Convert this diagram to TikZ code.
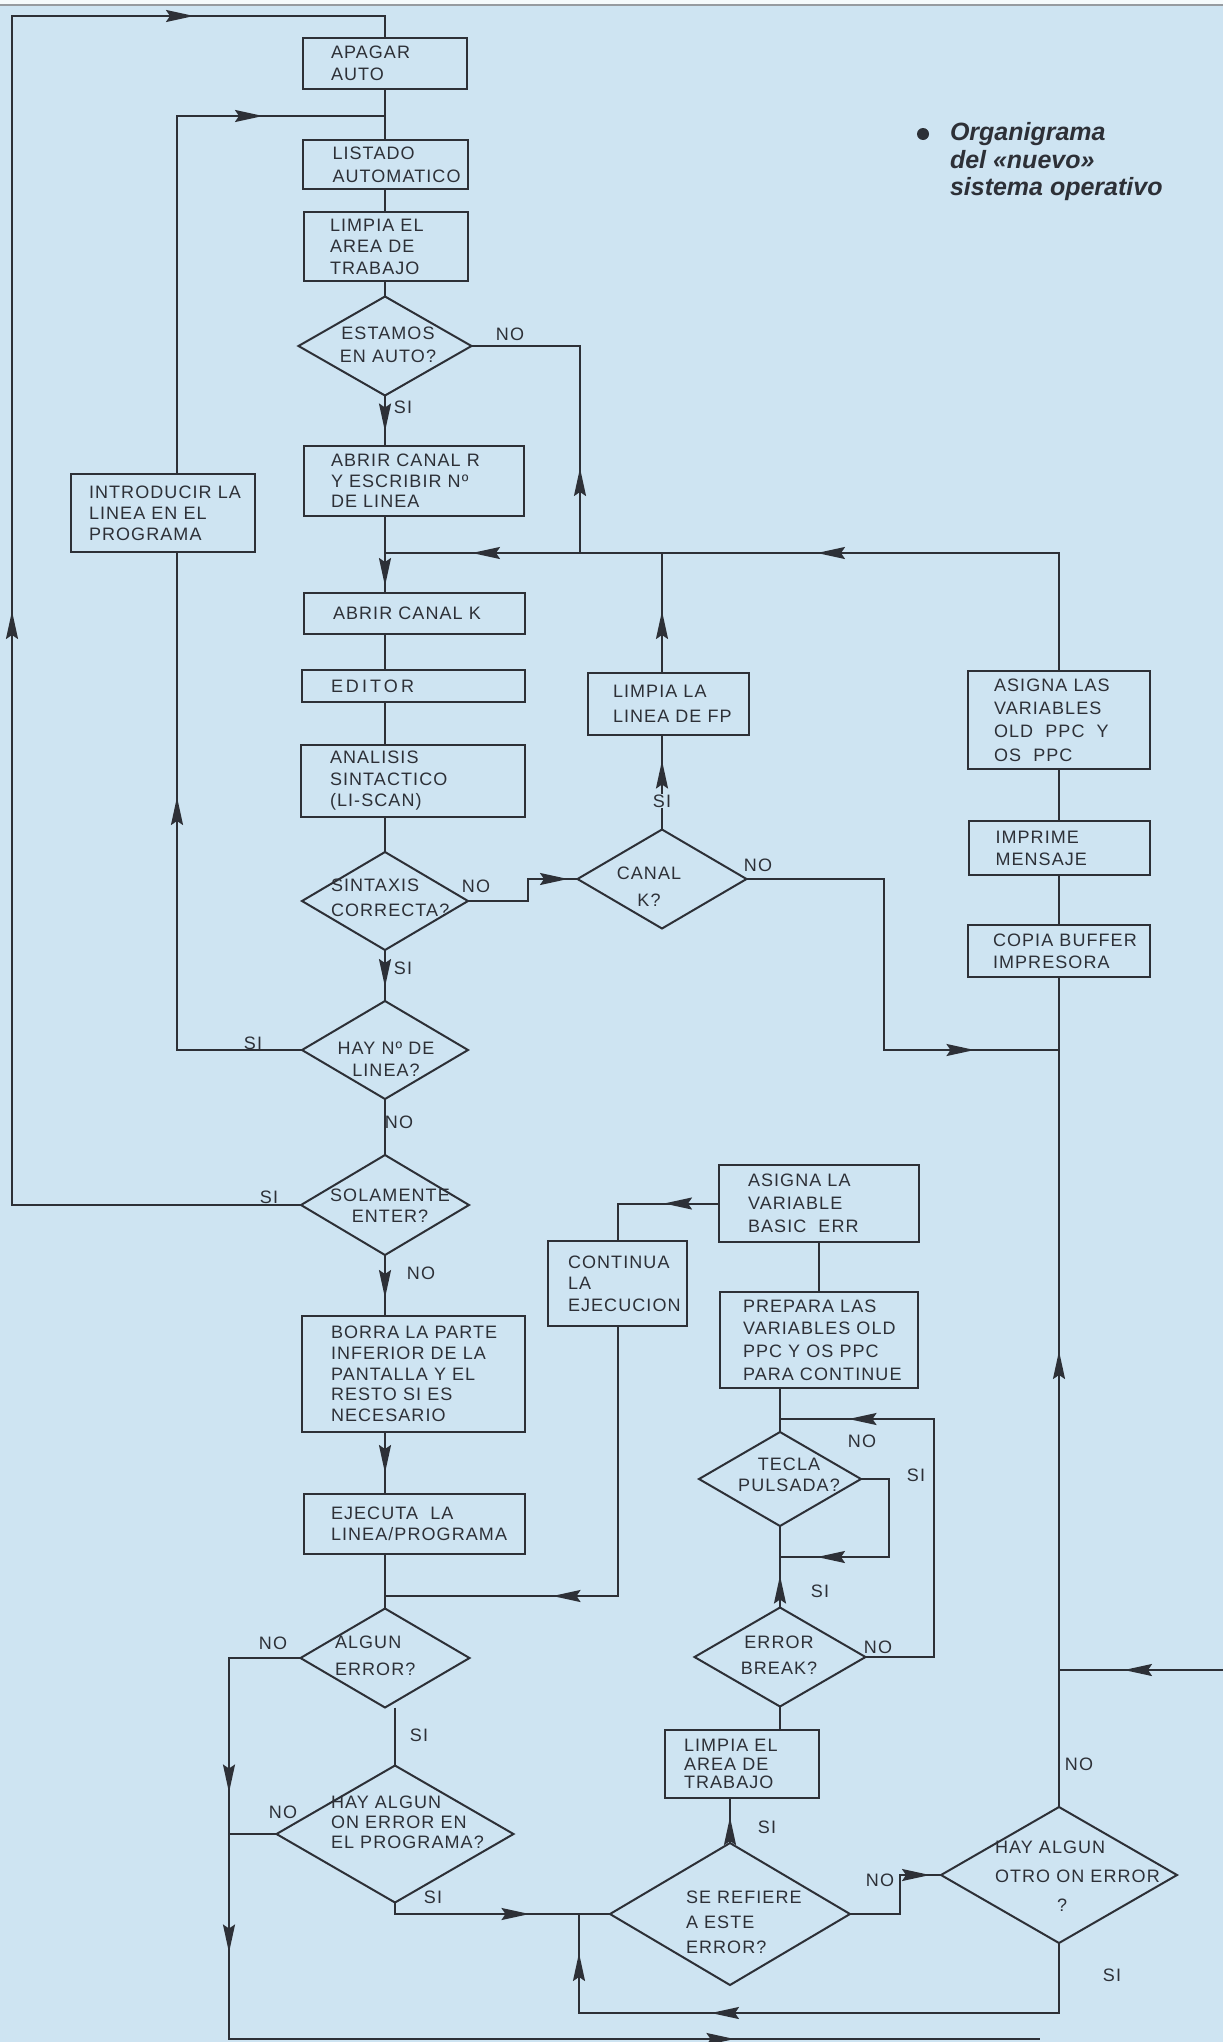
\documentclass[tikz,border=0pt]{standalone}
\usepackage{fontspec}
\setmainfont{Liberation Sans}
\newfontfamily\rotulo{Liberation Sans}[LetterSpace=6]
\newfontfamily\titulo{Liberation Sans}
\usetikzlibrary{shapes.geometric,arrows.meta,decorations.markings}
\definecolor{fondo}{RGB}{206,228,242}
\definecolor{tinta}{RGB}{45,48,55}
\definecolor{borde}{RGB}{150,155,160}

\begin{document}
\begin{tikzpicture}[x=1pt,y=1pt,yscale=-1,xscale=1,color=tinta,line width=2pt,
  caja/.style={draw, rectangle, inner sep=0pt, outer sep=0pt},
  rombo/.style={draw, diamond, inner sep=0pt, outer sep=0pt},
  texto/.style={text=tinta, inner sep=0pt, align=left, font=\rotulo\fontsize{18}{22}\selectfont},
  flecha/.style={postaction={decorate,decoration={markings,mark=at position #1 with {\arrow{Stealth[length=28pt,width=12pt,inset=4pt]}}}}}]
%set diagram size and paper colour
\useasboundingbox (0,0) rectangle (1223,2042);
\fill[fondo] (0,0) rectangle (1223,2042);
\fill[white!80!fondo] (0,0) rectangle (1223,5);
\draw[borde, line width=1.5pt] (0,5) -- (1223,5);

%Coordinates for bends and joins
\coordinate (eje) at (385,0);
\coordinate (izq) at (12,16);
\coordinate (lazo) at (177,116);
\coordinate (union1) at (385,553);
\coordinate (union2) at (580,553);
\coordinate (paso) at (528,879);
\coordinate (paso2) at (884,1050);
\coordinate (bordeDer) at (1223,1670);
\coordinate (union3) at (385,1596);
\coordinate (paso3) at (889,1557);
\coordinate (union4) at (780,1557);
\coordinate (paso4) at (934,1419);
\coordinate (nodoTecla) at (780,1419);
\coordinate (paso5) at (900,1875);
\coordinate (esqInf) at (229,2039);
\coordinate (finInf) at (1040,2039);
\coordinate (esqSI) at (579,2013);

%Shape: Rectangle
\node[caja, minimum width=164, minimum height=51] (apagar) at (385,63.5) {};
%Shape: Rectangle
\node[caja, minimum width=165, minimum height=49] (listado) at (385,164.5) {};
%Shape: Rectangle
\node[caja, minimum width=164, minimum height=69] (limpia1) at (386,246.5) {};
%Shape: Diamond
\node[rombo, minimum width=173, minimum height=99] (estamos) at (385,346) {};
%Shape: Rectangle
\node[caja, minimum width=220, minimum height=70] (abrirR) at (414,481) {};
%Shape: Rectangle
\node[caja, minimum width=184, minimum height=78] (introducir) at (163,513) {};
%Shape: Rectangle
\node[caja, minimum width=221, minimum height=41] (abrirK) at (414.5,613.5) {};
%Shape: Rectangle
\node[caja, minimum width=223, minimum height=32] (editor) at (413.5,686) {};
%Shape: Rectangle
\node[caja, minimum width=224, minimum height=72] (analisis) at (413,781) {};
%Shape: Diamond
\node[rombo, minimum width=166, minimum height=98] (sintaxis) at (385,901) {};
%Shape: Diamond
\node[rombo, minimum width=166, minimum height=98] (haylinea) at (385,1050) {};
%Shape: Diamond
\node[rombo, minimum width=168, minimum height=100] (solamente) at (385,1205) {};
%Shape: Rectangle
\node[caja, minimum width=223, minimum height=116] (borra) at (413.5,1374) {};
%Shape: Rectangle
\node[caja, minimum width=221, minimum height=60] (ejecuta) at (414.5,1524) {};
%Shape: Diamond
\node[rombo, minimum width=169, minimum height=99] (algun) at (385,1658) {};
%Shape: Diamond
\node[rombo, minimum width=237, minimum height=137] (hayon) at (395,1834) {};
%Shape: Rectangle
\node[caja, minimum width=161, minimum height=62] (limpiaFP) at (668.5,704) {};
%Shape: Diamond
\node[rombo, minimum width=169, minimum height=99] (canalK) at (662,879) {};
%Shape: Rectangle
\node[caja, minimum width=182, minimum height=98] (asignaLas) at (1059,720) {};
%Shape: Rectangle
\node[caja, minimum width=181, minimum height=54] (imprime) at (1059,848) {};
%Shape: Rectangle
\node[caja, minimum width=182, minimum height=52] (copia) at (1059,951) {};
%Shape: Rectangle
\node[caja, minimum width=139, minimum height=85] (continua) at (617.5,1283.5) {};
%Shape: Rectangle
\node[caja, minimum width=200, minimum height=77] (asignaLa) at (819,1203.5) {};
%Shape: Rectangle
\node[caja, minimum width=198, minimum height=96] (prepara) at (819,1340) {};
%Shape: Diamond
\node[rombo, minimum width=162, minimum height=94] (tecla) at (780,1479) {};
%Shape: Diamond
\node[rombo, minimum width=171, minimum height=99] (errorB) at (780,1657) {};
%Shape: Rectangle
\node[caja, minimum width=154, minimum height=68] (limpia2) at (742,1764) {};
%Shape: Diamond
\node[rombo, minimum width=240, minimum height=142] (serefiere) at (730,1914) {};
%Shape: Diamond
\node[rombo, minimum width=236, minimum height=136] (otro) at (1059,1875) {};

%Straight Lines: main column
\draw (apagar.south) -- (listado.north);
\draw (listado.south) -- (limpia1.north -| eje);
\draw (limpia1.south -| eje) -- (estamos.north);
\draw[flecha=36pt] (estamos.south) -- (abrirR.north -| eje);
\draw[flecha=70pt] (abrirR.south -| eje) -- (abrirK.north -| eje);
\draw (abrirK.south -| eje) -- (editor.north -| eje);
\draw (editor.south -| eje) -- (analisis.north -| eje);
\draw (analisis.south -| eje) -- (sintaxis.north);
\draw[flecha=37pt] (sintaxis.south) -- (haylinea.north);
\draw (haylinea.south) -- (solamente.north);
\draw[flecha=43pt] (solamente.south) -- (borra.north -| eje);
\draw[flecha=41pt] (borra.south -| eje) -- (ejecuta.north -| eje);
\draw (ejecuta.south -| eje) -- (algun.north);
\draw (hayon.north |- algun.south) -- (hayon.north);

%Straight Lines: loops on the left
\draw[flecha=883pt, flecha=1660pt] (solamente.west) -| (izq) -| (apagar.north);
\draw[flecha=378pt] (haylinea.west) -| (introducir.south -| lazo);
\draw[flecha=444pt] (introducir.north -| lazo) -- (lazo) -- (lazo -| eje);

%Straight Lines: return line and channel K
\draw[flecha=360pt, flecha=705pt] (asignaLas.north) |- (union1);
\draw[flecha=85pt] (union2) |- (estamos.east);
\draw[flecha=122pt] (sintaxis.east) -| (paso) -- (canalK.west);
\draw[flecha=69pt] (canalK.north) -- (canalK.north |- limpiaFP.south);
\draw[flecha=62pt] (canalK.north |- limpiaFP.north) -- (canalK.north |- union1);
\draw[flecha=399pt] (canalK.east) -| (paso2) -- (paso2 -| copia.south);

%Straight Lines: right column
\draw[flecha=456pt] (otro.north) -- (copia.south);
\draw (copia.north) -- (imprime.south);
\draw (imprime.north) -- (asignaLas.south);
\draw[flecha=99pt] (bordeDer) -- (bordeDer -| otro.north);

%Straight Lines: error handling
\draw[flecha=55pt] (asignaLa.west) -| (continua.north);
\draw[flecha=335pt] (continua.south) |- (union3);
\draw (asignaLa.south) -- (prepara.north);
\draw (prepara.south -| tecla.north) -- (tecla.north);
\draw[flecha=178pt] (tecla.east) -| (paso3) -- (union4);
\draw[flecha=32pt] (errorB.north) -- (tecla.south);
\draw[flecha=392pt] (errorB.east) -| (paso4) -- (nodoTecla);
\draw (errorB.south) -- (errorB.south |- limpia2.north);
\draw[flecha=26pt] (serefiere.north) -- (serefiere.north |- limpia2.south);
\draw[flecha=119pt] (serefiere.east) -| (paso5) -- (otro.west);
\draw[flecha=206pt, flecha=366pt, flecha=958pt] (algun.west) -| (esqInf) -- (finInf);
\draw (hayon.west) -- (hayon.west -| esqInf);
\draw[flecha=146pt] (hayon.south) |- (serefiere.west);
\draw[flecha=418pt, flecha=610pt] (otro.south) |- (esqSI) -- (esqSI |- serefiere.west);

% Text Node
\node[texto, anchor=west] (apagarT) at ([xshift=27pt]apagar.west) {APAGAR\\AUTO};
% Text Node
\node[texto, anchor=west, font=\rotulo\fontsize{18}{23}\selectfont] (listadoT) at ([xshift=29pt]listado.west) {LISTADO\\AUTOMATICO};
% Text Node
\node[texto, anchor=west, font=\rotulo\fontsize{18}{21.5}\selectfont] (limpia1T) at ([xshift=25pt]limpia1.west) {LIMPIA EL\\AREA DE\\TRABAJO};
% Text Node
\node[texto, align=center, font=\rotulo\fontsize{18}{23}\selectfont] (estamosT) at (388,345) {ESTAMOS\\EN AUTO?};
% Text Node
\node[texto, anchor=west, font=\rotulo\fontsize{18}{20.5}\selectfont] (abrirRT) at ([xshift=26pt]abrirR.west) {ABRIR CANAL R\\Y ESCRIBIR Nº\\DE LINEA};
% Text Node
\node[texto, anchor=west, font=\rotulo\fontsize{18}{21}\selectfont] (introducirT) at ([xshift=17pt]introducir.west) {INTRODUCIR LA\\LINEA EN EL\\PROGRAMA};
% Text Node
\node[texto, anchor=west] (abrirKT) at ([xshift=28pt]abrirK.west) {ABRIR CANAL K};
% Text Node
\node[texto, anchor=west] (editorT) at ([xshift=28pt]editor.west) {E\,D\,I\,T\,O\,R};
% Text Node
\node[texto, anchor=west, font=\rotulo\fontsize{18}{21.5}\selectfont] (analisisT) at ([xshift=28pt]analisis.west) {ANALISIS\\SINTACTICO\\(LI-SCAN)};
% Text Node
\node[texto, anchor=west, font=\rotulo\fontsize{18}{25}\selectfont] (sintaxisT) at (330,898) {SINTAXIS\\CORRECTA?};
% Text Node
\node[texto, align=center] (haylineaT) at (386,1059) {HAY Nº DE\\LINEA?};
% Text Node
\node[texto, align=center, font=\rotulo\fontsize{18}{21}\selectfont] (solamenteT) at (390,1206) {SOLAMENTE\\ENTER?};
% Text Node
\node[texto, anchor=west, font=\rotulo\fontsize{18}{20.7}\selectfont] (borraT) at ([xshift=28pt]borra.west) {BORRA LA PARTE\\INFERIOR DE LA\\PANTALLA Y EL\\RESTO SI ES\\NECESARIO};
% Text Node
\node[texto, anchor=west, font=\rotulo\fontsize{18}{21}\selectfont] (ejecutaT) at ([xshift=26pt]ejecuta.west) {EJECUTA~~LA\\LINEA/PROGRAMA};
% Text Node
\node[texto, anchor=west, font=\rotulo\fontsize{18}{27}\selectfont] (algunT) at (334,1656) {ALGUN\\ERROR?};
% Text Node
\node[texto, anchor=west, font=\rotulo\fontsize{18}{20}\selectfont] (hayonT) at (330,1822) {HAY ALGUN\\ON ERROR EN\\EL PROGRAMA?};
% Text Node
\node[texto, anchor=west, font=\rotulo\fontsize{18}{25}\selectfont] (limpiaFPT) at ([xshift=24pt]limpiaFP.west) {LIMPIA LA\\LINEA DE FP};
% Text Node
\node[texto, align=center, font=\rotulo\fontsize{18}{27}\selectfont] (canalT) at (649,887) {CANAL\\K?};
% Text Node
\node[texto, anchor=west, font=\rotulo\fontsize{18}{23.3}\selectfont] (asignaLasT) at ([xshift=25pt]asignaLas.west) {ASIGNA LAS\\VARIABLES\\OLD~~PPC~~Y\\OS~~PPC};
% Text Node
\node[texto, anchor=west] (imprimeT) at ([xshift=26pt]imprime.west) {IMPRIME\\MENSAJE};
% Text Node
\node[texto, anchor=west] (copiaT) at ([xshift=24pt]copia.west) {COPIA BUFFER\\IMPRESORA};
% Text Node
\node[texto, anchor=west, font=\rotulo\fontsize{18}{21.5}\selectfont] (continuaT) at ([xshift=19pt]continua.west) {CONTINUA\\LA\\EJECUCION};
% Text Node
\node[texto, anchor=west, font=\rotulo\fontsize{18}{23}\selectfont] (asignaLaT) at ([xshift=28pt]asignaLa.west) {ASIGNA LA\\VARIABLE\\BASIC~~ERR};
% Text Node
\node[texto, anchor=west, font=\rotulo\fontsize{18}{22.7}\selectfont] (preparaT) at ([xshift=22pt]prepara.west) {PREPARA LAS\\VARIABLES OLD\\PPC Y OS PPC\\PARA CONTINUE};
% Text Node
\node[texto, align=center, font=\rotulo\fontsize{18}{21}\selectfont] (teclaT) at (789,1475) {TECLA\\PULSADA?};
% Text Node
\node[texto, align=center, font=\rotulo\fontsize{18}{26}\selectfont] (errorBT) at (779,1655) {ERROR\\BREAK?};
% Text Node
\node[texto, anchor=west, font=\rotulo\fontsize{18}{18.5}\selectfont] (limpia2T) at ([xshift=18pt]limpia2.west) {LIMPIA EL\\AREA DE\\TRABAJO};
% Text Node
\node[texto, anchor=west, font=\rotulo\fontsize{18}{25}\selectfont] (serefiereT) at (685,1922) {SE REFIERE\\A ESTE\\ERROR?};
% Text Node
\node[texto, anchor=west, font=\rotulo\fontsize{18}{29}\selectfont] (otroT) at (994,1876) {HAY ALGUN\\OTRO ON ERROR\\\hspace*{62pt}?};

% Text Node: branch labels
\node[texto] (noEstamos) at (510,334) {NO};
\node[texto] (siEstamos) at (403,407) {SI};
\node[texto] (noSintaxis) at (476,886) {NO};
\node[texto] (siSintaxis) at (403,968) {SI};
\node[texto] (siLinea) at (253,1043) {SI};
\node[texto] (noLinea) at (399,1122) {NO};
\node[texto] (siSolo) at (269,1197) {SI};
\node[texto] (noSolo) at (421,1273) {NO};
\node[texto, fill=fondo, inner sep=1pt] (siCanal) at (662,801) {SI};
\node[texto] (noCanal) at (758,865) {NO};
\node[texto] (noAlgun) at (273,1643) {NO};
\node[texto] (siAlgun) at (419,1735) {SI};
\node[texto] (noHayon) at (283,1812) {NO};
\node[texto] (siHayon) at (433,1897) {SI};
\node[texto] (noTecla) at (862,1441) {NO};
\node[texto] (siTecla) at (916,1475) {SI};
\node[texto] (siError) at (820,1591) {SI};
\node[texto] (noError) at (878,1647) {NO};
\node[texto] (siRefiere) at (767,1827) {SI};
\node[texto] (noRefiere) at (880,1880) {NO};
\node[texto] (noOtro) at (1079,1764) {NO};
\node[texto] (siOtro) at (1112,1975) {SI};

% Text Node: caption
\fill (923,134) circle (6);
\node[anchor=west, align=left, inner sep=0pt, text=tinta, font=\titulo\bfseries\itshape\fontsize{25}{27.5}\selectfont] (titulo) at (949,162) {Organigrama\\del «nuevo»\\sistema operativo};

\end{tikzpicture}
\end{document}
